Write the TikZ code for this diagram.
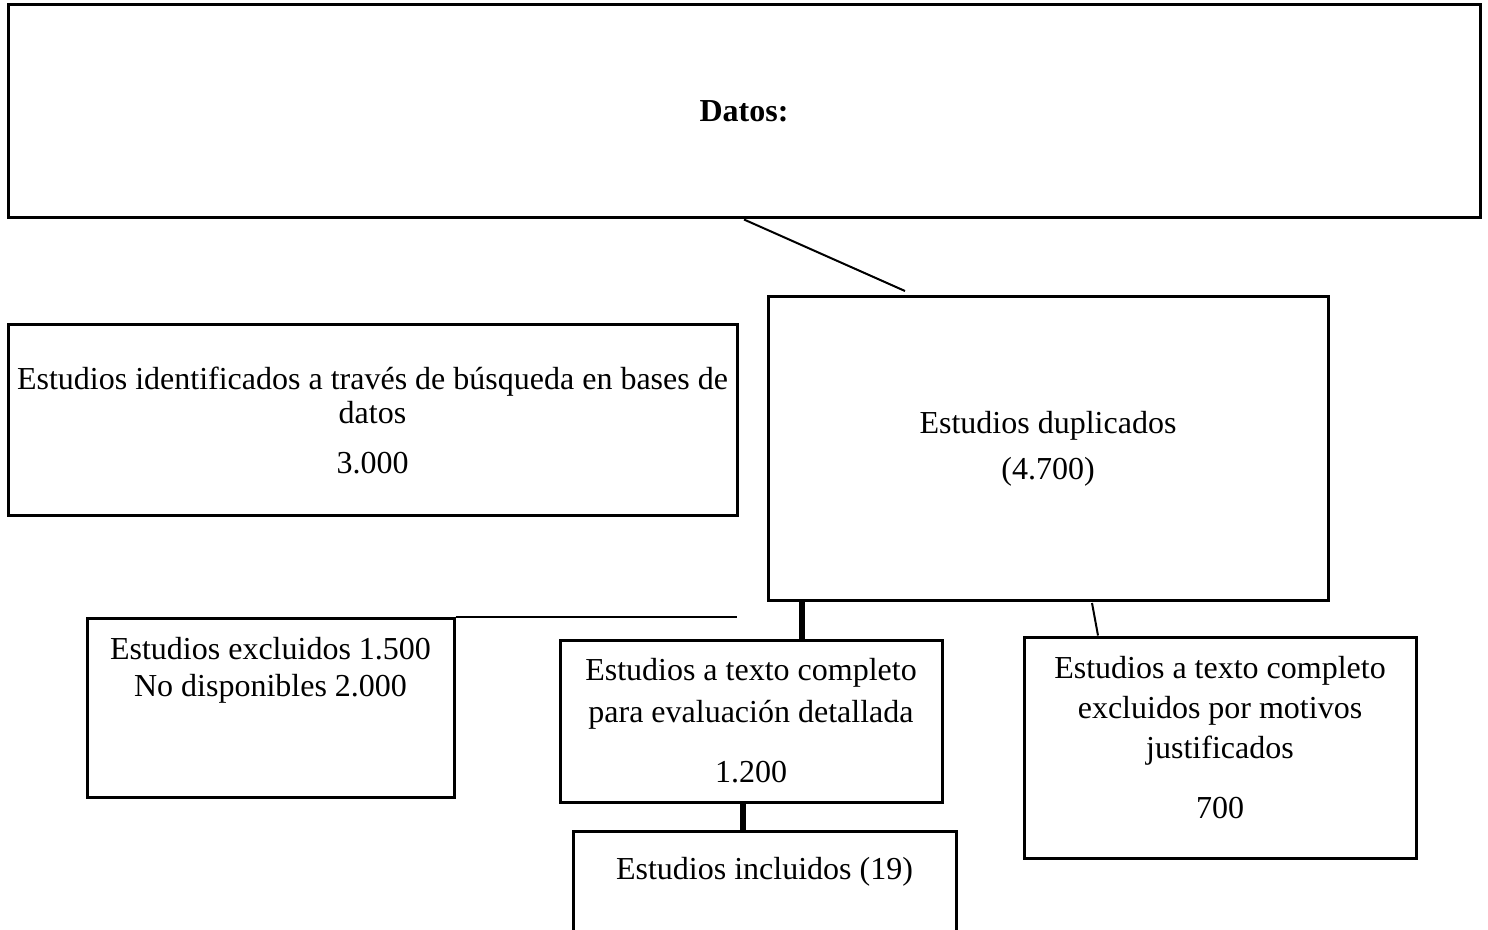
\documentclass[tikz,border=0pt]{standalone}
\usepackage{fontspec}
\setmainfont{Liberation Serif}
\usetikzlibrary{calc}
\tikzset{
  caja/.style={draw,line width=1.5pt,align=center,inner sep=2pt,font=\fontsize{16}{17}\selectfont},
  texto/.style={align=center,inner sep=2pt,font=\fontsize{16}{17}\selectfont},
  fino/.style={line width=1pt},
  grueso/.style={line width=3pt}
}
\begin{document}
\begin{tikzpicture}[x=0.5pt,y=-0.5pt]
\useasboundingbox (0,0) rectangle (1488,930);
% cajas
\node[caja,minimum width=736pt,minimum height=106.5pt] (datos) at (744,111.5) {\textbf{Datos:}};
\node[caja,minimum width=280pt,minimum height=151.5pt] (dupli) at (1048,448.5) {Estudios duplicados\\[6pt](4.700)};
\node[caja,minimum width=364.5pt,minimum height=95pt] (ident) at (372.5,420) {Estudios identificados a través de búsqueda en bases de\\datos\\[8pt]3.000};
\node[caja,minimum width=183.5pt,minimum height=89.5pt] (exclu) at (270.5,707.5) {};
\node[texto,anchor=north] (exclutxt) at ([yshift=-8pt]exclu.north) {Estudios excluidos 1.500\\[1.5pt]No disponibles 2.000};
\node[caja,minimum width=191pt,minimum height=81pt] (comple) at (751,721) {Estudios a texto completo\\[4pt]para evaluación detallada\\[13pt]1.200};
\node[caja,minimum width=196pt,minimum height=110.5pt] (justi) at (1220,747.5) {};
\node[texto,anchor=north] (justitxt) at ([yshift=-8pt]justi.north) {Estudios a texto completo\\[3pt]excluidos por motivos\\[3pt]justificados\\[13pt]700};
\node[caja,minimum width=191.5pt,minimum height=90pt] (inclu) at (764.5,921) {};
\node[texto,anchor=north] (inclutxt) at ([yshift=-11.5pt]inclu.north) {Estudios incluidos (19)};
% conectores
\coordinate (c1) at (905,291);
\coordinate (c2) at (737,618);
\coordinate (c3) at (1092,603);
\draw[fino] (datos.south) -- (c1);
\draw[fino] (exclu.north east) -- (exclu.north east -| c2);
\draw[fino] (c3) -- ([xshift=-61pt]justi.north);
\draw[grueso] ([xshift=25.5pt]comple.north) -- ([xshift=25.5pt]comple.north |- dupli.south);
\draw[grueso] ([xshift=-4pt]comple.south) -- ([xshift=-4pt]comple.south |- inclu.north);
\end{tikzpicture}
\end{document}
